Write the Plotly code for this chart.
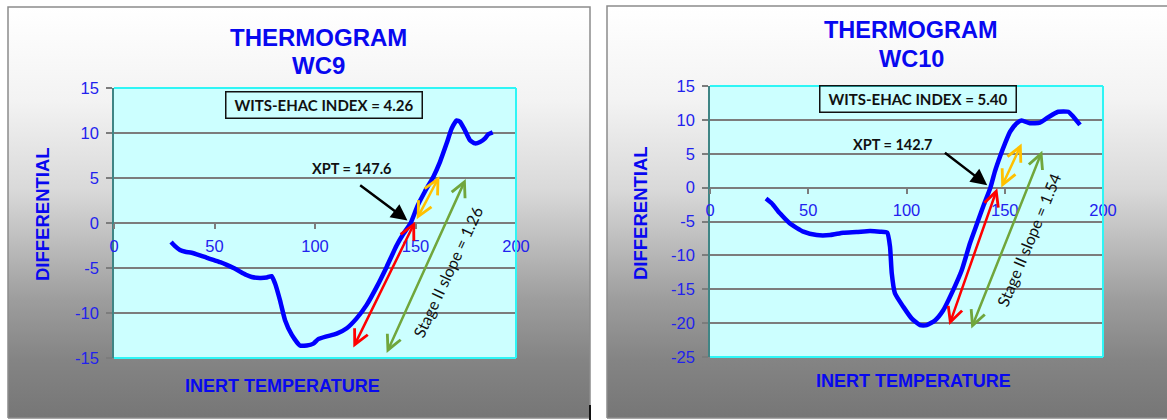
import plotly.graph_objects as go

W, H = 1167, 420

# ---- thermogram data -------------------------------------------------------
wc9_temp = [28.4, 30.5, 32.8, 35.5, 38.6, 42.8, 46.0, 49.4, 52.8, 56.1,
            59.5, 62.7, 65.6, 68.5, 72.6, 76.0, 78.4, 80.1, 82.6, 85.1,
            88.4, 92.5, 95.9, 99.2, 101.6, 105.8, 110.8, 115.8, 120.7, 125.7,
            130.7, 135.7, 140.6, 144.0, 147.6, 151.0, 154.7, 158.9, 162.2, 165.5,
            168.0, 170.5, 172.1, 174.6, 177.1, 179.6, 182.1, 184.6, 186.2, 188.4]
wc9_diff = [-2.1, -2.6, -3.0, -3.2, -3.3, -3.6, -3.85, -4.1, -4.35, -4.65,
            -5.0, -5.4, -5.75, -6.0, -6.1, -6.05, -5.9, -6.7, -8.6, -10.8,
            -12.4, -13.6, -13.6, -13.4, -12.9, -12.6, -12.3, -11.7, -10.6, -9.1,
            -7.1, -4.85, -2.5, -1.2, 0.0, 1.9, 3.5, 5.15, 6.8, 8.85,
            10.5, 11.4, 11.25, 10.3, 9.2, 8.85, 9.0, 9.4, 9.85, 10.07]

wc10_temp = [28.5, 31.4, 35.6, 40.7, 47.5, 54.3, 61.1, 67.8, 74.6, 81.4,
             86.5, 90.2, 91.6, 92.5, 94.1, 98.4, 102.6, 106.9, 110.3, 114.5,
             118.7, 123.8, 128.1, 132.3, 135.9, 139.4, 142.7, 145.0, 147.6, 150.1,
             152.7, 156.1, 158.6, 162.8, 167.9, 172.2, 177.2, 182.3, 184.8, 188.3]
wc10_diff = [-1.6, -2.3, -3.8, -5.3, -6.5, -7.0, -7.0, -6.65, -6.55, -6.4,
             -6.5, -6.65, -8.7, -12.65, -15.6, -17.6, -19.3, -20.3, -20.3, -19.6,
             -18.1, -15.1, -12.2, -8.2, -5.3, -2.5, 0.0, 2.4, 4.6, 6.5,
             8.25, 9.5, 9.9, 9.5, 9.6, 10.4, 11.2, 11.2, 10.5, 9.25]

x_ticks = [0, 50, 100, 150, 200]
wc9_y_ticks = [-15, -10, -5, 0, 5, 10, 15]
wc10_y_ticks = [-25, -20, -15, -10, -5, 0, 5, 10, 15]

wc9_index, wc10_index = 4.26, 5.40
wc9_xpt, wc10_xpt = 147.6, 142.7
wc9_slope, wc10_slope = 1.26, 1.54

# ---- styling ---------------------------------------------------------------
BLUE = "#0808F0"
TICK_BLUE = "#2222EE"
GRID = "#7c7c7c"
ARIAL = "Liberation Sans, Arial, sans-serif"
CAL = "Lato, Carlito, Calibri, sans-serif"
GRADIENT = [[0.0, "#767676"], [0.141, "#848484"], [0.287, "#9d9d9d"],
            [0.409, "#b9b9b9"], [0.555, "#d9d9d9"], [0.774, "#f3f3f3"],
            [1.0, "#ffffff"]]


def fx(px):
    return px / W


def fy(py):
    return 1 - py / H


panels = [
    dict(name="WC9", temp=wc9_temp, diff=wc9_diff, yticks=wc9_y_ticks,
         yrange=[-15, 15], box=(114, 88, 516, 358), frame=(8, 7, 590, 418),
         title_x=318.5, title_y=(37, 65), title_size=24,
         ytitle=(42, 214), xtitle=(282, 386),
         index=wc9_index, index_box=(104.7, 13.06),
         xpt=wc9_xpt, xpt_label=(118.4, 6.1), xpt_tail=(-52, -39),
         red=(118.7, -14.0, 149.8, 0.15), orange=(150.2, 0.25, 161.9, 5.2),
         green=(135.3, -14.6, 175.0, 4.9),
         slope=wc9_slope, slope_pos=(166.2, -5.44), slope_angle=-65),
    dict(name="WC10", temp=wc10_temp, diff=wc10_diff, yticks=wc10_y_ticks,
         yrange=[-25, 15], box=(710, 86, 1103, 357), frame=(607, 6, 1175, 418),
         title_x=911, title_y=(30, 59), title_size=23.5,
         ytitle=(640, 213), xtitle=(913, 381),
         index=wc10_index, index_box=(106.1, 13.08),
         xpt=wc10_xpt, xpt_label=(93.3, 6.3), xpt_tail=(-47, -36),
         red=(121.5, -20.5, 146.2, -0.1), orange=(147.9, -0.2, 158.6, 6.5),
         green=(132.7, -21.0, 169.1, 5.45),
         slope=wc10_slope, slope_pos=(162.4, -7.73), slope_angle=-67.6),
]

fig = go.Figure()

# page backdrop on a full-page pixel subplot
fig.add_trace(go.Scatter(x=[0, W, W, 0, 0], y=[0, 0, H, H, 0], mode="lines",
                         fill="toself", fillcolor="white", line=dict(width=0),
                         hoverinfo="skip", showlegend=False, xaxis="x", yaxis="y"))
for p in panels:
    x0, y0, x1, y1 = p["frame"]
    fig.add_trace(go.Scatter(
        x=[x0, x1, x1, x0, x0], y=[H - y1, H - y1, H - y0, H - y0, H - y1],
        mode="lines", fill="toself",
        fillgradient=dict(type="vertical", colorscale=GRADIENT),
        line=dict(color="#8c8c8c", width=1.5),
        hoverinfo="skip", showlegend=False, xaxis="x", yaxis="y"))

layout = dict(
    width=W, height=H, margin=dict(l=0, r=0, t=0, b=0, pad=0),
    paper_bgcolor="white", plot_bgcolor="#CCFFFF", showlegend=False,
    xaxis=dict(domain=[0, 1], range=[0, W], visible=False, fixedrange=True),
    yaxis=dict(domain=[0, 1], range=[0, H], visible=False, fixedrange=True),
)

annotations = []
shapes = []

for i, p in enumerate(panels):
    n = i + 2
    xa, ya = f"x{n}", f"y{n}"
    bx0, by0, bx1, by1 = p["box"]
    ymin, ymax = p["yrange"]
    ydom = [fy(by1), fy(by0)]
    zero_pos = ydom[0] + (0 - ymin) / (ymax - ymin) * (ydom[1] - ydom[0])

    fig.add_trace(go.Scatter(
        x=p["temp"], y=p["diff"], mode="lines",
        line=dict(color="#0000FF", width=4.5, shape="spline", smoothing=0.5),
        showlegend=False, xaxis=xa, yaxis=ya))

    layout[f"xaxis{n}"] = dict(
        domain=[fx(bx0), fx(bx1)], range=[0, 200], anchor="free", position=zero_pos,
        tickvals=x_ticks, ticktext=[str(v) for v in x_ticks],
        ticks="outside", ticklen=5, tickwidth=1.5, tickcolor=GRID, ticklabelstandoff=3,
        showgrid=False, zeroline=False, showline=False, automargin=False,
        tickfont=dict(family=ARIAL, size=16.5, color=TICK_BLUE), fixedrange=True)
    layout[f"yaxis{n}"] = dict(
        domain=ydom, range=p["yrange"], anchor=xa,
        tickvals=p["yticks"], ticktext=[str(v) for v in p["yticks"]],
        ticks="outside", ticklen=6, tickwidth=1.5, tickcolor=GRID, ticklabelstandoff=4,
        showgrid=True, gridcolor=GRID, gridwidth=1.5, zeroline=False,
        showline=True, linecolor="#3f8585", linewidth=1.5, automargin=False,
        tickfont=dict(family=ARIAL, size=16.5, color=TICK_BLUE), fixedrange=True)

    # cyan plot-area border (left side is the axis line)
    for sx0, sy0, sx1, sy1 in [(0, 1, 1, 1), (1, 0, 1, 1), (0, 0, 1, 0)]:
        shapes.append(dict(type="line", xref=f"{xa} domain", yref=f"{ya} domain",
                           x0=sx0, y0=sy0, x1=sx1, y1=sy1, layer="above",
                           line=dict(color="#2EF5F5", width=2)))

    # titles
    for txt, ty in zip(["THERMOGRAM", p["name"]], p["title_y"]):
        annotations.append(dict(text=f"<b>{txt}</b>", xref="paper", yref="paper",
                                x=fx(p["title_x"]), y=fy(ty), xanchor="center", yanchor="middle",
                                showarrow=False,
                                font=dict(family=ARIAL, size=p["title_size"], color=BLUE)))
    annotations.append(dict(text="<b>DIFFERENTIAL</b>", xref="paper", yref="paper",
                            x=fx(p["ytitle"][0]), y=fy(p["ytitle"][1]), textangle=-90,
                            xanchor="center", yanchor="middle", showarrow=False,
                            font=dict(family=ARIAL, size=18.5, color=BLUE)))
    annotations.append(dict(text="<b>INERT TEMPERATURE</b>", xref="paper", yref="paper",
                            x=fx(p["xtitle"][0]), y=fy(p["xtitle"][1]),
                            xanchor="center", yanchor="middle", showarrow=False,
                            font=dict(family=ARIAL, size=18, color=BLUE)))

    # index box
    annotations.append(dict(text=f"<b>WITS-EHAC INDEX = {p['index']:.2f}</b>",
                            xref=xa, yref=ya, x=p["index_box"][0], y=p["index_box"][1],
                            xanchor="center", yanchor="middle", showarrow=False,
                            width=193, height=23, borderpad=1, bordercolor="#111111",
                            borderwidth=1.5, font=dict(family=CAL, size=15, color="#111111")))

    # XPT callout
    annotations.append(dict(text=f"<b>XPT = {p['xpt']}</b>", xref=xa, yref=ya,
                            x=p["xpt_label"][0], y=p["xpt_label"][1], showarrow=False,
                            xanchor="center", yanchor="middle",
                            font=dict(family=CAL, size=14.5, color="#111111")))
    annotations.append(dict(text="", xref=xa, yref=ya, x=p["xpt"], y=0,
                            ax=p["xpt_tail"][0], ay=p["xpt_tail"][1],
                            showarrow=True, arrowhead=2, arrowsize=1.3, arrowwidth=2.5,
                            arrowcolor="#000000", standoff=4))

    # stage arrows (double headed)
    for key, col in [("red", "#FF0000"), ("orange", "#FFC000"), ("green", "#70A63C")]:
        ax0, ay0, ax1, ay1 = p[key]
        annotations.append(dict(text="", xref=xa, yref=ya, axref=xa, ayref=ya,
                                x=ax1, y=ay1, ax=ax0, ay=ay0, showarrow=True,
                                arrowside="end+start", arrowhead=5, startarrowhead=5,
                                arrowsize=1.15, startarrowsize=1.15, arrowwidth=2.5,
                                arrowcolor=col))

    annotations.append(dict(text=f"Stage II slope = {p['slope']:.2f}", xref=xa, yref=ya,
                            x=p["slope_pos"][0], y=p["slope_pos"][1], textangle=p["slope_angle"],
                            xanchor="center", yanchor="middle", showarrow=False,
                            font=dict(family=CAL, size=16, color="#111111")))

# small dark tick at the lower edge between the two panels
shapes.append(dict(type="line", xref="paper", yref="paper", x0=fx(590), x1=fx(590),
                   y0=fy(405), y1=0, layer="above", line=dict(color="#111111", width=2)))

layout["annotations"] = annotations
layout["shapes"] = shapes
fig.update_layout(**layout)

fig.write_html("out.html")
